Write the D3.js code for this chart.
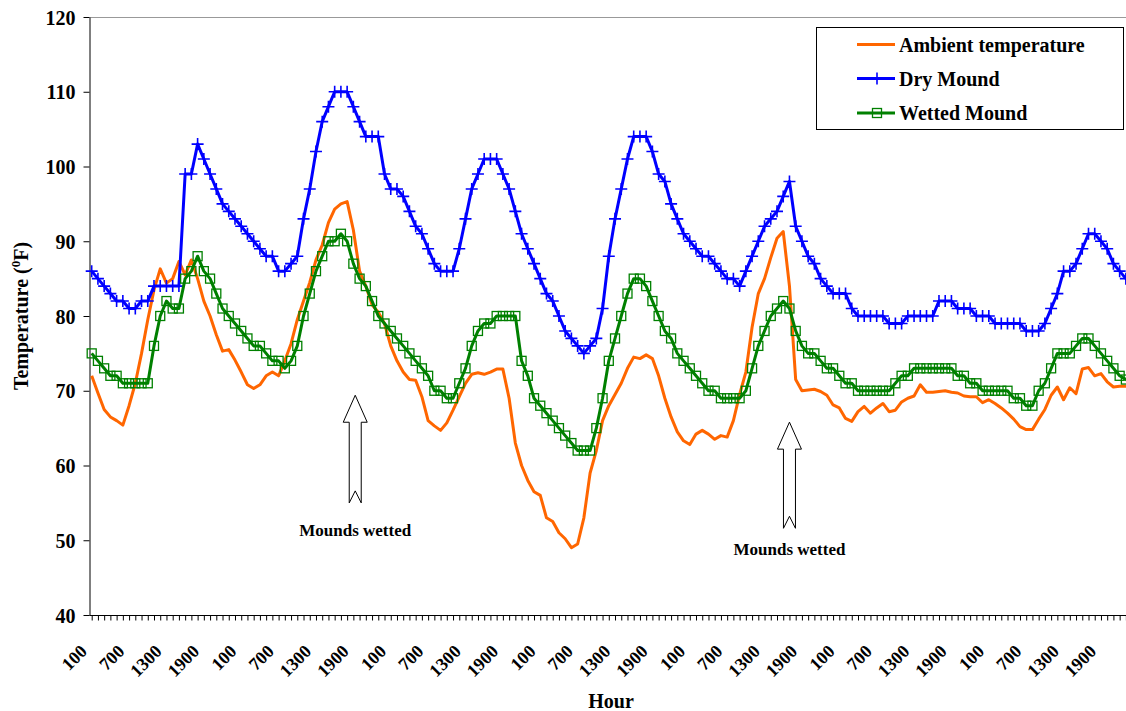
<!DOCTYPE html>
<html><head><meta charset="utf-8">
<script src="https://cdn.jsdelivr.net/npm/d3@7"></script>
<style>
body{margin:0;background:#fff}
svg text{font-family:"Liberation Serif","Times New Roman",serif;font-weight:bold;fill:#000}
</style>
</head><body>
<svg id="c" width="1126" height="711"></svg>
<script>
// ---- data ----
const hourOfDay = ["100","200","300","400","500","600","700","800","900","1000","1100","1200",
  "1300","1400","1500","1600","1700","1800","1900","2000","2100","2200","2300","2400"];
const days = [1,2,3,4,5,6,7];
const categories = days.flatMap(() => hourOfDay);
const yTicks = [40,50,60,70,80,90,100,110,120];

const ambient = [
72,69.7,67.5,66.5,66,65.4,68,71,75,79.5,
83.5,86.3,84.4,85,87.3,85.5,87.5,85,82,80,
77.5,75.3,75.5,74.1,72.5,70.8,70.3,70.8,72,72.5,
72,74,76.3,79.5,82,84.5,87.5,89.5,92.5,94.3,
95,95.3,91.5,86,84,81.5,80.5,79,76,74,
72.5,71.5,71.4,69.2,66,65.3,64.7,65.7,67.4,69.2,
71,72.2,72.4,72.2,72.5,72.9,72.9,69,63,60,
58,56.5,56,53,52.5,51,50.2,49,49.5,53,
59,62,66,68,69.5,71,73,74.5,74.3,74.8,
74.3,72,69,66.5,64.5,63.3,62.8,64.2,64.7,64.2,
63.5,64,63.8,66,69.5,72.5,78.5,83,85,87.8,
90.4,91.3,84,71.5,70,70.1,70.2,69.9,69.4,68.1,
67.7,66.3,65.9,67.2,67.9,67,67.7,68.3,67.2,67.4,
68.5,69,69.3,70.8,69.8,69.8,69.9,70,69.8,69.7,
69.3,69.2,69.2,68.4,68.8,68.3,67.7,67,66.2,65.2,
64.8,64.8,66.2,67.5,69.4,70.5,68.8,70.4,69.6,72.9,
73.1,72,72.3,71.2,70.5,70.6,70.6,70.6];

const dryMound = [
86,85,84,83,82,82,81,81,82,82,
84,84,84,84,84,99,99,103,101,99,
97,95,94,93,92,91,90,89,88,88,
86,86,87,88,93,97,102,106,108,110,
110,110,108,106,104,104,104,99,97,97,
96,94,92,91,89,87,86,86,86,89,
93,97,99,101,101,101,99,97,94,91,
89,87,85,83,82,80,78,77,76,75,
76,77,81,88,93,97,101,104,104,104,
102,99,98,95,93,91,90,89,88,88,
87,86,85,85,84,86,88,90,92,93,
94,96,98,92,90,88,87,85,84,83,
83,83,81,80,80,80,80,80,79,79,
79,80,80,80,80,80,82,82,82,81,
81,81,80,80,80,79,79,79,79,79,
78,78,78,79,81,83,86,86,87,89,
91,91,90,89,87,86,85,84];

const wettedMound = [
75,74,73,72,72,71,71,71,71,71,
76,80,82,81,81,85,86,88,86,85,
83,81,80,79,78,77,76,76,75,74,
74,73,74,76,80,83,86,88,90,90,
91,90,87,85,84,82,80,79,78,77,
76,75,74,73,72,70,70,69,69,71,
73,76,78,79,79,80,80,80,80,74,
72,69,68,67,66,65,64,63,62,62,
62,65,69,74,77,80,83,85,85,84,
82,80,78,77,75,74,73,72,71,70,
70,69,69,69,69,70,73,76,78,80,
81,82,81,78,76,75,75,74,73,73,
72,71,71,70,70,70,70,70,70,71,
72,72,73,73,73,73,73,73,73,72,
72,71,71,70,70,70,70,70,69,69,
68,68,70,71,73,75,75,75,76,77,
77,76,75,74,73,72,71.5,71];

const seriesNames = ["Ambient temperature","Dry Mound","Wetted Mound"];
// annotations: category index, arrow tip value, arrow tail value, label value
const notes = [
  {label:"Mounds wetted", idx:42.3, tip:69.4, tail:55.0, textVal:50.6},
  {label:"Mounds wetted", idx:112,  tip:65.8, tail:51.6, textVal:48.0}
];

// ---- chart ----
const svg = d3.select("#c");
const X0 = 91.7, DX = 6.23, YAXIS_X = 89.5;
const n = categories.length;
const x = d3.scaleLinear().domain([0, n-1]).range([X0, X0 + (n-1)*DX]);
const y = d3.scaleLinear().domain([40,120]).range([615, 17]);

// plot area top border (gray)
svg.append("line").attr("x1",YAXIS_X).attr("x2",1126).attr("y1",y(120)+0.5).attr("y2",y(120)+0.5)
  .attr("stroke","#999").attr("stroke-width",1);

// y axis
const gy = svg.append("g").attr("transform",`translate(${YAXIS_X},0)`)
  .call(d3.axisLeft(y).tickValues(yTicks).tickSize(6).tickSizeOuter(0).tickPadding(8));
gy.select(".domain").attr("stroke","#000").attr("stroke-width",1);
gy.selectAll("line").attr("stroke","#000");
gy.selectAll("text").style("font-size","20px").attr("dy","0.35em");

// x axis
const gx = svg.append("g").attr("transform",`translate(0,${y(40)+0.5})`)
  .call(d3.axisBottom(x).tickValues(d3.range(n)).tickSize(5).tickSizeOuter(0)
    .tickFormat(i => i % 6 === 0 ? categories[i] : ""));
gx.select(".domain").attr("d",`M${YAXIS_X},0H1126`).attr("stroke","#000");
gx.selectAll(".tick line").attr("stroke","#000");
gx.selectAll(".tick text").attr("x",0).attr("y",0).attr("dy",0)
  .attr("text-anchor","end").style("font-size","18px")
  .attr("transform","translate(-4,37) rotate(-45)");

// axis titles
svg.append("text").attr("x",611).attr("y",708).attr("text-anchor","middle")
  .style("font-size","20px").text("Hour");
const yt = svg.append("text").attr("transform",`translate(28,${(y(40)+y(120))/2}) rotate(-90)`)
  .attr("text-anchor","middle").style("font-size","20px");
yt.append("tspan").text("Temperature (");
yt.append("tspan").attr("dy",-8).style("font-size","13px").text("0");
yt.append("tspan").attr("dy",8).text("F)");

// series
const line = d3.line().x((d,i)=>x(i)).y(d=>y(d));
const plot = svg.append("g");
plot.append("path").datum(ambient).attr("d",line).attr("fill","none")
  .attr("stroke","#FF6600").attr("stroke-width",3).attr("stroke-linejoin","round");
plot.append("path").datum(dryMound).attr("d",line).attr("fill","none")
  .attr("stroke","#0000FF").attr("stroke-width",3).attr("stroke-linejoin","round");
plot.append("g").selectAll("path").data(dryMound).join("path")
  .attr("transform",(d,i)=>`translate(${x(i)},${y(d)})`)
  .attr("d","M-6,0H6M0,-6V6").attr("stroke","#0000FF").attr("stroke-width",1.6);
plot.append("path").datum(wettedMound).attr("d",line).attr("fill","none")
  .attr("stroke","#008000").attr("stroke-width",3).attr("stroke-linejoin","round");
plot.append("g").selectAll("rect").data(wettedMound).join("rect")
  .attr("x",(d,i)=>x(i)-4.5).attr("y",d=>y(d)-4.5).attr("width",9).attr("height",9)
  .attr("fill","none").attr("stroke","#008000").attr("stroke-width",1.3);

// annotations: block arrows + labels
notes.forEach(a => {
  const cx = x(a.idx), ty = y(a.tip), by = y(a.tail);
  const hw = 12, sw = 6, hh = 27, notch = 12;
  const p = [[cx,ty],[cx+hw,ty+hh],[cx+sw,ty+hh],[cx+sw,by],[cx,by-notch],[cx-sw,by],[cx-sw,ty+hh],[cx-hw,ty+hh]];
  svg.append("path").attr("d",d3.line()(p)+"Z").attr("fill","#fff").attr("stroke","#000").attr("stroke-width",1);
  svg.append("text").attr("x",cx).attr("y",y(a.textVal)).attr("text-anchor","middle")
    .style("font-size","17px").text(a.label);
});

// legend
const lg = svg.append("g");
lg.append("rect").attr("x",816.5).attr("y",27.5).attr("width",307).attr("height",102)
  .attr("fill","#fff").attr("stroke","#000");
const colors = ["#FF6600","#0000FF","#008000"];
const ly = [44.5,78.5,113];
seriesNames.forEach((s,k) => {
  lg.append("line").attr("x1",857).attr("x2",895).attr("y1",ly[k]).attr("y2",ly[k])
    .attr("stroke",colors[k]).attr("stroke-width",3);
  if (k===1) lg.append("path").attr("d",`M871,${ly[k]}H883M877,${ly[k]-6}V${ly[k]+6}`)
    .attr("stroke",colors[k]).attr("stroke-width",1.6);
  if (k===2) lg.append("rect").attr("x",872.5).attr("y",ly[k]-4.5).attr("width",9).attr("height",9)
    .attr("fill","none").attr("stroke",colors[k]).attr("stroke-width",1.3);
  lg.append("text").attr("x",899).attr("y",ly[k]).attr("dy","0.35em").style("font-size","20px").text(s);
});
</script>
</body></html>
